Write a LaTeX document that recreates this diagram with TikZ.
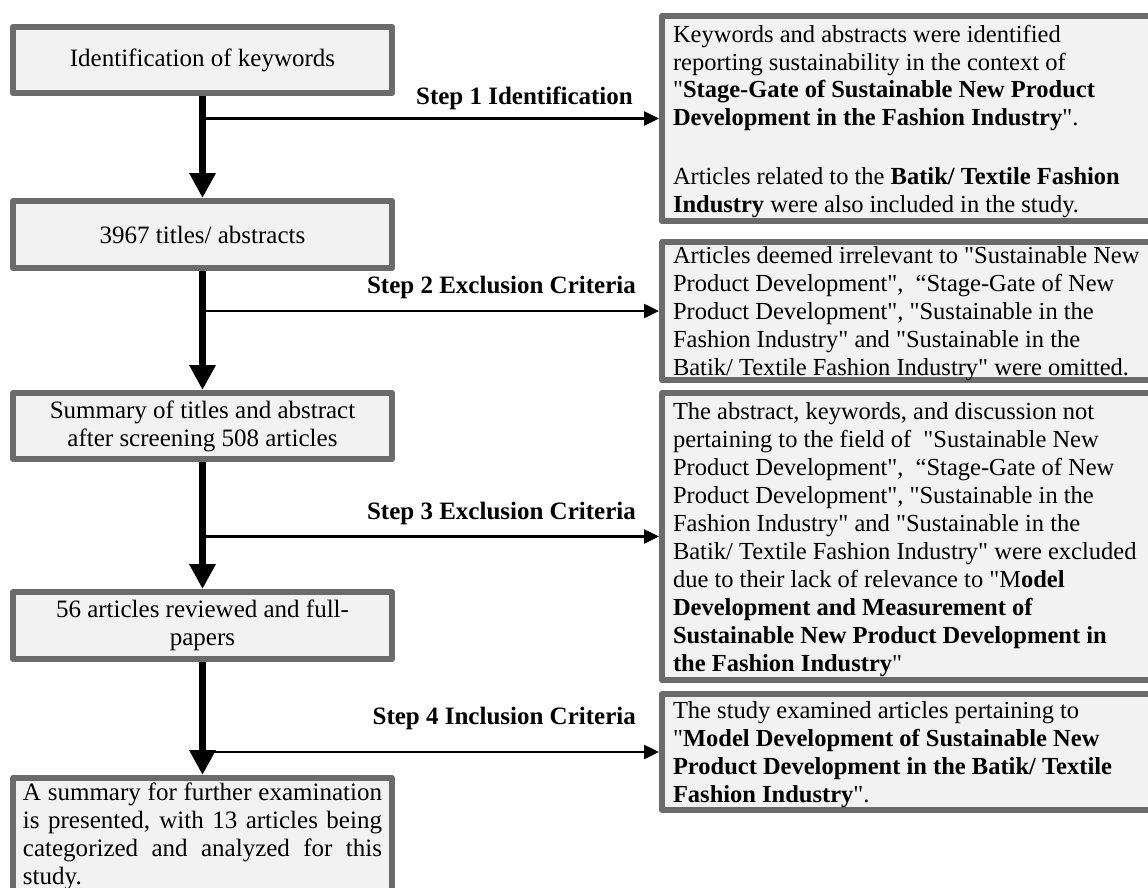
\documentclass[tikz,border=0pt]{standalone}
\usepackage{fontspec}
\setmainfont{Liberation Serif}[Ligatures=TeXOff]
\usetikzlibrary{arrows.meta}
\definecolor{boxborder}{HTML}{6B6B6B}
\definecolor{boxfill}{HTML}{F2F2F2}
\newcommand{\lowertext}[2]{\raisebox{-3pt}[\height][\depth]{\parbox{#1}{\raggedright #2}}}
\begin{document}
\begin{tikzpicture}[x=1pt,y=-1pt,
  lbox/.style={draw=boxborder, fill=boxfill, line width=6pt, line join=round,
    minimum width=379pt, inner sep=0pt, align=center,
    font=\fontsize{25}{28}\selectfont},
  lastbox/.style={draw=boxborder, fill=boxfill, line width=6pt, line join=round,
    anchor=north, inner xsep=10pt, inner ysep=4.5pt, text width=359pt,
    align=justify, font=\fontsize{25}{28}\selectfont},
  rbox/.style={draw=boxborder, fill=boxfill, line width=6pt, line join=round,
    anchor=west, inner xsep=11pt, inner ysep=0pt,
    font=\fontsize{24.5}{28}\selectfont},
  steplabel/.style={anchor=east, inner sep=0pt,
    font=\fontsize{25}{28}\selectfont\bfseries},
  mainarrow/.style={line width=7pt, -{Triangle[length=25pt,width=25pt]}},
  sidearrow/.style={line width=2.5pt, -{Triangle[length=15pt,width=14pt]}}]
\useasboundingbox (0,0) rectangle (1148,888);
\clip (0,0) rectangle (1148,888);

% left column
\node[lbox, minimum height=66pt] (b1) at (202.5,60) {Identification of keywords};
\node[lbox, minimum height=67pt] (b2) at (202.5,234.5) {3967 titles/ abstracts};
\node[lbox, minimum height=66pt] (b3) at (202.5,426) {Summary of titles and abstract\\after screening 508 articles};
\node[lbox, minimum height=67pt] (b4) at (202.5,625.5) {56 articles reviewed and full-\\papers};
\node[lastbox] (b5) at (202.5,775) {A summary for further examination\linebreak
is presented, with 13 articles being\linebreak
categorized and analyzed for this\linebreak
study.};

% right column
\node[rbox, minimum height=205pt] (r1) at (659,118.5) {\fontsize{24.5}{27.5}\selectfont\lowertext{480pt}{%
Keywords and abstracts were identified\\
reporting sustainability in the context of\\
"\textbf{Stage-Gate of Sustainable New Product}\\
\textbf{Development in the Fashion Industry}".\\[32pt]
Articles related to the \textbf{Batik/ Textile Fashion}\\
\textbf{Industry} were also included in the study.}};

\node[rbox, minimum height=138pt] (r2) at (659,311) {\lowertext{480pt}{%
Articles deemed irrelevant to "Sustainable New\\
Product Development",\ \ “Stage-Gate of New\\
Product Development", "Sustainable in the\\
Fashion Industry" and "Sustainable in the\\
Batik/ Textile Fashion Industry" were omitted.}};

\node[rbox, minimum height=287pt] (r3) at (659,536.5) {\lowertext{480pt}{%
The abstract, keywords, and discussion not\\
pertaining to the field of\ \ "Sustainable New\\
Product Development",\ \ “Stage-Gate of New\\
Product Development", "Sustainable in the\\
Fashion Industry" and "Sustainable in the\\
Batik/ Textile Fashion Industry" were excluded\\
due to their lack of relevance to "M\textbf{odel}\\
\textbf{Development and Measurement of}\\
\textbf{Sustainable New Product Development in}\\
\textbf{the Fashion Industry}"}};

\node[rbox, minimum height=116pt] (r4) at (659,752) {\lowertext{480pt}{%
The study examined articles pertaining to\\
"\textbf{Model Development of Sustainable New}\\
\textbf{Product Development in the Batik/ Textile}\\
\textbf{Fashion Industry}".}};

% step labels
\node[steplabel] (l1) at (633,98) {Step 1 Identification};
\node[steplabel] (l2) at (636,287) {Step 2 Exclusion Criteria};
\node[steplabel] (l3) at (636,513) {Step 3 Exclusion Criteria};
\node[steplabel] (l4) at (636,718) {Step 4 Inclusion Criteria};

% main flow
\draw[mainarrow] (b1.south) -- (b2.north);
\draw[mainarrow] (b2.south) -- (b3.north);
\draw[mainarrow] (b3.south) -- (b4.north);
\draw[mainarrow] (b4.south) -- (b5.north);

% side arrows
\draw[sidearrow] (b1.south |- r1.west) -- (r1.west);
\draw[sidearrow] (b2.south |- r2.west) -- (r2.west);
\draw[sidearrow] (b3.south |- r3.west) -- (r3.west);
\draw[sidearrow] (b4.south |- r4.west) -- (r4.west);
\end{tikzpicture}
\end{document}
